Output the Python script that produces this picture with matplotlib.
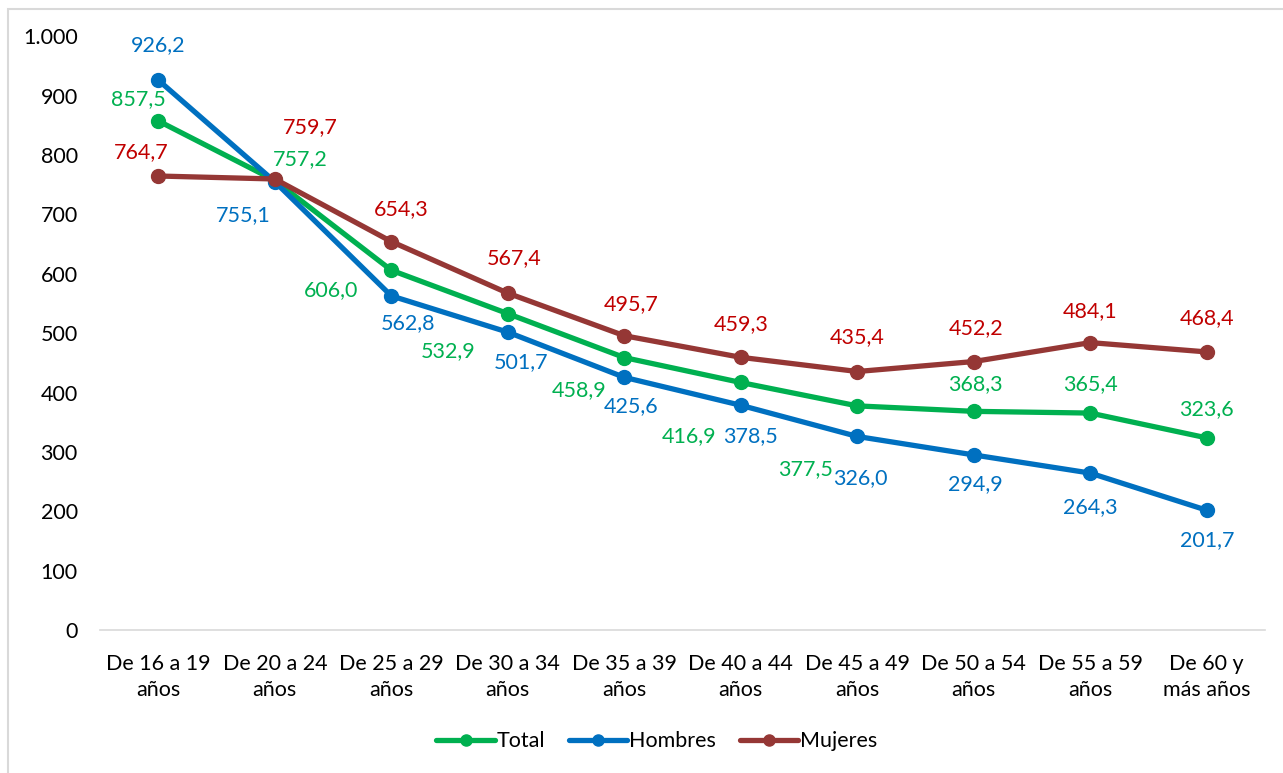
import matplotlib.pyplot as plt
from matplotlib.patches import Rectangle

# Datos
categorias = ['De 16 a 19\naños', 'De 20 a 24\naños', 'De 25 a 29\naños', 'De 30 a 34\naños',
              'De 35 a 39\naños', 'De 40 a 44\naños', 'De 45 a 49\naños', 'De 50 a 54\naños',
              'De 55 a 59\naños', 'De 60 y\nmás años']
total = [857.5, 757.2, 606.0, 532.9, 458.9, 416.9, 377.5, 368.3, 365.4, 323.6]
hombres = [926.2, 755.1, 562.8, 501.7, 425.6, 378.5, 326.0, 294.9, 264.3, 201.7]
mujeres = [764.7, 759.7, 654.3, 567.4, 495.7, 459.3, 435.4, 452.2, 484.1, 468.4]

# label offsets in pixels (dx, dy up)
off_total = [(-20, 22), (25, 21), (-60, -20), (-60, -37), (-45, -33), (-52, -54), (-52, -63), (2, 27), (0, 29), (0, 29)]
off_hombres = [(0, 35), (-32, -33), (17, -27), (13, -30), (7, -29), (10, -31), (3, -42), (2, -29), (0, -34), (0, -30)]
off_mujeres = [(-17, 24), (35, 52), (10, 32), (6, 35), (7, 32), (0, 33), (0, 34), (2, 33), (0, 32), (0, 34)]

plt.rcParams['font.family'] = ['Lato', 'DejaVu Sans']
fs = 15.5

fig = plt.figure(figsize=(12.83, 7.73), dpi=100)
ax = fig.add_axes([0.078, 0.185, 0.908, 0.768])

x = range(len(categorias))
series = [
    ('Total', total, '#00B050', '#00B050', off_total),
    ('Hombres', hombres, '#0070C0', '#0070C0', off_hombres),
    ('Mujeres', mujeres, '#953735', '#C00000', off_mujeres),
]
for name, vals, col, lab_col, offs in series:
    ax.plot(x, vals, color=col, lw=3.8, marker='o', markersize=10, label=name,
            solid_capstyle='round')
    for xi, v, (dx, dy) in zip(x, vals, offs):
        ax.annotate(f'{v:.1f}'.replace('.', ','), (xi, v), xytext=(dx * 0.72, dy * 0.72),
                    textcoords='offset points', ha='center', va='center',
                    fontsize=fs, color=lab_col)

ax.set_xlim(-0.5, len(categorias) - 0.5)
ax.set_ylim(0, 1000)
ax.set_yticks(range(0, 1001, 100))
ax.set_yticklabels(['0', '100', '200', '300', '400', '500', '600', '700', '800', '900', '1.000'])
ax.set_xticks(list(x))
ax.set_xticklabels(categorias, linespacing=1.4)
ax.tick_params(axis='both', length=0, labelsize=fs, colors='black')
ax.tick_params(axis='y', pad=16)
ax.tick_params(axis='x', pad=17)
for s in ['top', 'right', 'left']:
    ax.spines[s].set_visible(False)
ax.spines['bottom'].set_color('#D9D9D9')
ax.spines['bottom'].set_linewidth(1.2)

leg = fig.legend(loc='center', bbox_to_anchor=(0.512, 0.041), ncol=3, frameon=False,
                 fontsize=fs, handlelength=2.7, handletextpad=0.1, columnspacing=1.1,
                 markerscale=0.8)

fig.patches.append(Rectangle((0.006, -0.01), 1.0, 0.999, transform=fig.transFigure,
                             fill=False, edgecolor='#D9D9D9', lw=1.5))

fig.savefig('out.png', dpi=100)
